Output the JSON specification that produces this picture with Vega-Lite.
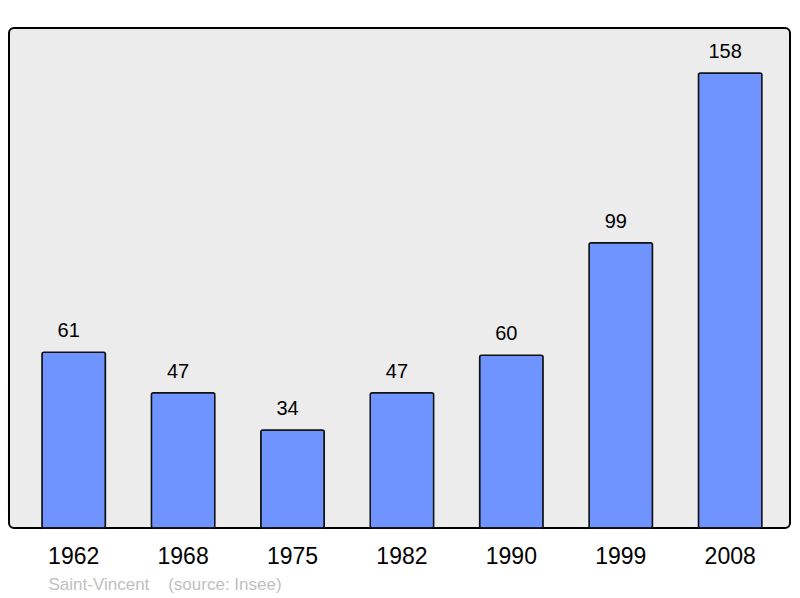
{
  "$schema": "https://vega.github.io/schema/vega-lite/v6.json",
  "autosize": "none",
  "width": 781,
  "height": 500,
  "padding": {"left": 9, "top": 28, "right": 10, "bottom": 70},
  "background": "white",
  "config": {
    "view": {"fill": "#ececec", "stroke": "#000000", "strokeWidth": 2, "cornerRadius": 5},
    "font": "Liberation Sans"
  },
  "data": {"values": [
    {"year": "1962", "pop": 61},
    {"year": "1968", "pop": 47},
    {"year": "1975", "pop": 34},
    {"year": "1982", "pop": 47},
    {"year": "1990", "pop": 60},
    {"year": "1999", "pop": 99},
    {"year": "2008", "pop": 158}
  ]},
  "encoding": {
    "x": {
      "field": "year", "type": "nominal", "sort": null,
      "scale": {"paddingInner": 0.42, "paddingOuter": 0.279, "align": 0.54},
      "axis": {
        "domain": false, "ticks": false, "labelAngle": 0,
        "labelFontSize": 23, "labelColor": "#000000", "labelPadding": 17,
        "title": "Saint-Vincent\u00a0\u00a0\u00a0\u00a0(source: Insee)",
        "titleFontSize": 17, "titleFontWeight": "normal", "titleColor": "#c0c0c0",
        "titleAnchor": "start", "titleAlign": "left", "titleBaseline": "middle", "titleX": 39, "titleY": 56
      }
    },
    "y": {
      "field": "pop", "type": "quantitative",
      "scale": {"domain": [0, 173.6], "nice": false},
      "axis": null
    }
  },
  "layer": [
    {
      "mark": {"type": "bar", "color": "#7094ff", "stroke": "#111111", "strokeWidth": 1.5, "cornerRadius": 2}
    },
    {
      "mark": {"type": "text", "fontSize": 20, "dy": -21, "dx": -5, "color": "#000000"},
      "encoding": {"text": {"field": "pop", "type": "quantitative"}}
    }
  ]
}
